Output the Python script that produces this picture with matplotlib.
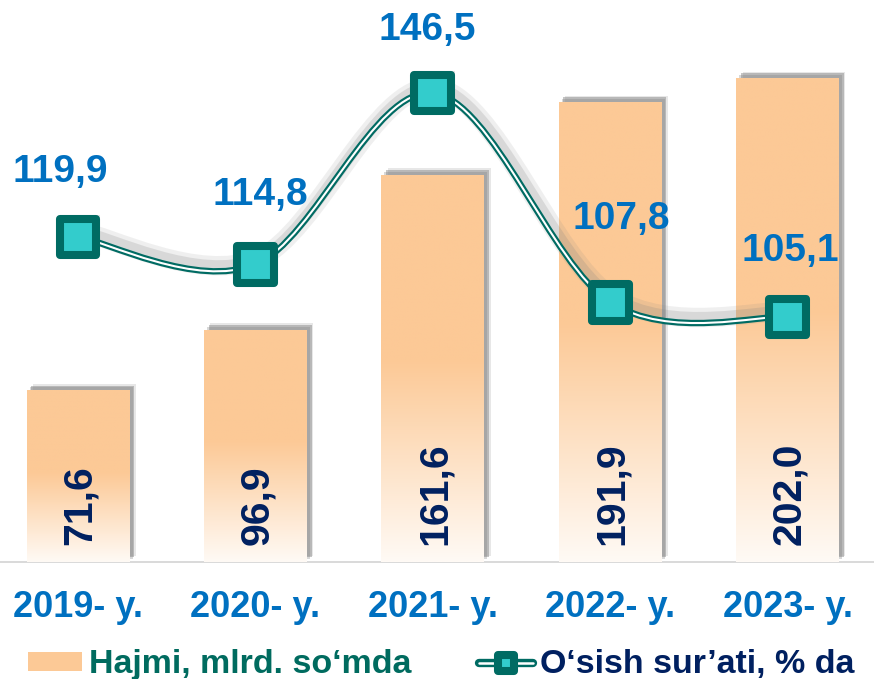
import numpy as np
import matplotlib
matplotlib.use("Agg")
import matplotlib.pyplot as plt
from matplotlib.path import Path
from matplotlib.patches import PathPatch, Patch
from matplotlib.lines import Line2D
from matplotlib.markers import MarkerStyle
import matplotlib.patheffects as pe

# ---------------- data ----------------
years = ["2019- y.", "2020- y.", "2021- y.", "2022- y.", "2023- y."]
volume = [71.6, 96.9, 161.6, 191.9, 202.0]          # Hajmi, mlrd. so'mda
growth = [119.9, 114.8, 146.5, 107.8, 105.1]        # O'sish sur'ati, % da
volume_labels = ["71,6", "96,9", "161,6", "191,9", "202,0"]
growth_labels = ["119,9", "114,8", "146,5", "107,8", "105,1"]
legend_labels = ["Hajmi, mlrd. so\u2018mda", "O\u2018sish sur\u2019ati, % da"]

# label offsets (pixels) for the growth labels
growth_label_offsets = [(-18, 65), (5, 70), (-6, 63), (11, 83), (3, 66)]

# ---------------- style ----------------
plt.rcParams['font.family'] = ['Liberation Sans', 'DejaVu Sans']
plt.rcParams['font.weight'] = 'bold'

ORANGE = np.array([252, 201, 150]) / 255.0
BOTTOM = np.array([255, 250, 245]) / 255.0
TEAL = '#006B63'
TURQ = '#33CCCC'
BLUE = '#0070C0'
NAVY = '#002060'
GREEN_TXT = '#006B5F'

fig = plt.figure(figsize=(8.74, 6.79), dpi=100)
ax = fig.add_axes([0.0, 1 - 562 / 679, 1.0, (562 - 20) / 679])
ax2 = ax.twinx()

x = np.arange(len(years))
bar_w = 0.58

shadow_fx = [
    pe.SimplePatchShadow(offset=(2.2, 2.2), shadow_rgbFace='#7f7f7f', alpha=0.3),
    pe.SimplePatchShadow(offset=(3.4, 3.4), shadow_rgbFace='#7f7f7f', alpha=0.45),
    pe.SimplePatchShadow(offset=(4.6, 4.6), shadow_rgbFace='#7f7f7f', alpha=0.18),
    pe.Normal(),
]
bars = ax.bar(x, volume, width=bar_w, color=ORANGE, zorder=2)
for b in bars:
    b.set_path_effects(shadow_fx)

# vertical gradient inside every bar
n = 256
f = np.linspace(0, 1, n)  # 0 bottom -> 1 top
t = np.clip(f / 0.52, 0, 1)
grad = BOTTOM[None, :] * (1 - t[:, None]) + ORANGE[None, :] * t[:, None]
grad_img = grad[::-1][:, None, :]
for b in bars:
    x0, w, h = b.get_x(), b.get_width(), b.get_height()
    im = ax.imshow(grad_img, extent=(x0, x0 + w, 0, h), aspect='auto',
                   zorder=3, interpolation='bilinear')
    im.set_clip_path(b)

# bar value labels (vertical)
for xi, lab in zip(x, volume_labels):
    ax.annotate(lab, xy=(xi, 0), xytext=(2, 17), textcoords='offset pixels',
                rotation=90, ha='center', va='bottom', fontsize=29.5,
                fontweight='bold', color=NAVY, zorder=5)

ax.set_xlim(-78 / 177.4, (874 - 78) / 177.4)
ax.set_ylim(0, 542 / 2.396)
ax2.set_ylim(146.5 - 469 / 5.411, 146.5 + 73 / 5.411)

ax.set_xticks(x)
ax.set_xticklabels(years, fontsize=26, fontweight='bold', color=BLUE)
ax.tick_params(axis='x', length=0, pad=20)
ax.set_yticks([])
ax2.set_yticks([])
for a in (ax, ax2):
    for s in ('top', 'left', 'right', 'bottom'):
        a.spines[s].set_visible(False)
ax.spines['bottom'].set_visible(True)
ax.spines['bottom'].set_color('#D9D9D9')
ax.spines['bottom'].set_linewidth(1.4)
ax.patch.set_visible(False)
ax2.patch.set_visible(False)

# smooth (Bezier) growth curve built from the data points
pts = np.column_stack([x, growth]).astype(float)
verts = [tuple(pts[0])]
codes = [Path.MOVETO]
for i in range(len(pts) - 1):
    p_prev = pts[i - 1] if i > 0 else pts[i]
    p0, p1 = pts[i], pts[i + 1]
    p_next = pts[i + 2] if i + 2 < len(pts) else pts[i + 1]
    c1 = p0 + (p1 - p_prev) / 6.0
    c2 = p1 - (p_next - p0) / 6.0
    verts += [tuple(c1), tuple(c2), tuple(p1)]
    codes += [Path.CURVE4] * 3
curve = PathPatch(Path(verts, codes), facecolor='none', edgecolor='white',
                  lw=1.5, zorder=4, capstyle='round', joinstyle='round')
curve.set_path_effects([
    pe.SimpleLineShadow(offset=(1.5, 4.0), shadow_color='#808080', alpha=0.12, linewidth=14),
    pe.SimpleLineShadow(offset=(1.5, 4.0), shadow_color='#808080', alpha=0.2, linewidth=8),
    pe.Stroke(linewidth=4.6, foreground=TEAL),
    pe.Normal(),
])
ax2.add_patch(curve)

mk = MarkerStyle('s', joinstyle='round')
markers_line, = ax2.plot(x, growth, ls='none', marker=mk, markersize=26.5,
                         markerfacecolor=TURQ, markeredgecolor=TEAL,
                         markeredgewidth=5.8, zorder=6)
markers_line.set_path_effects([
    pe.SimplePatchShadow(offset=(2.5, 2.5), shadow_rgbFace='#808080', alpha=0.2),
    pe.Normal(),
])

for xi, yi, lab, off in zip(x, growth, growth_labels, growth_label_offsets):
    ax2.annotate(lab, xy=(xi, yi), xytext=off, textcoords='offset pixels',
                 ha='center', va='center', fontsize=28, fontweight='bold',
                 color=BLUE, zorder=7)

# legend
bar_handle = Patch(facecolor=ORANGE, edgecolor='none')
h_outer = Line2D([], [], color=TEAL, lw=6.0, solid_capstyle='round')
h_inner = Line2D([], [], color='white', lw=1.8, solid_capstyle='round')
h_mark = Line2D([], [], ls='none', marker=mk, markersize=12.2,
                markerfacecolor=TURQ, markeredgecolor=TEAL, markeredgewidth=5.8)
leg = fig.legend([bar_handle, (h_outer, h_inner, h_mark)], legend_labels,
                 loc='center', bbox_to_anchor=(441 / 874, (679 - 665) / 679),
                 ncol=2, frameon=False, fontsize=24.5,
                 handlelength=1.6, handleheight=0.5, handletextpad=0.18,
                 columnspacing=2.0, borderpad=0.1)
txts = leg.get_texts()
txts[0].set_color(GREEN_TXT)
txts[1].set_color(NAVY)
for tx in txts:
    tx.set_fontweight('bold')

fig.savefig('out.png', dpi=100)
